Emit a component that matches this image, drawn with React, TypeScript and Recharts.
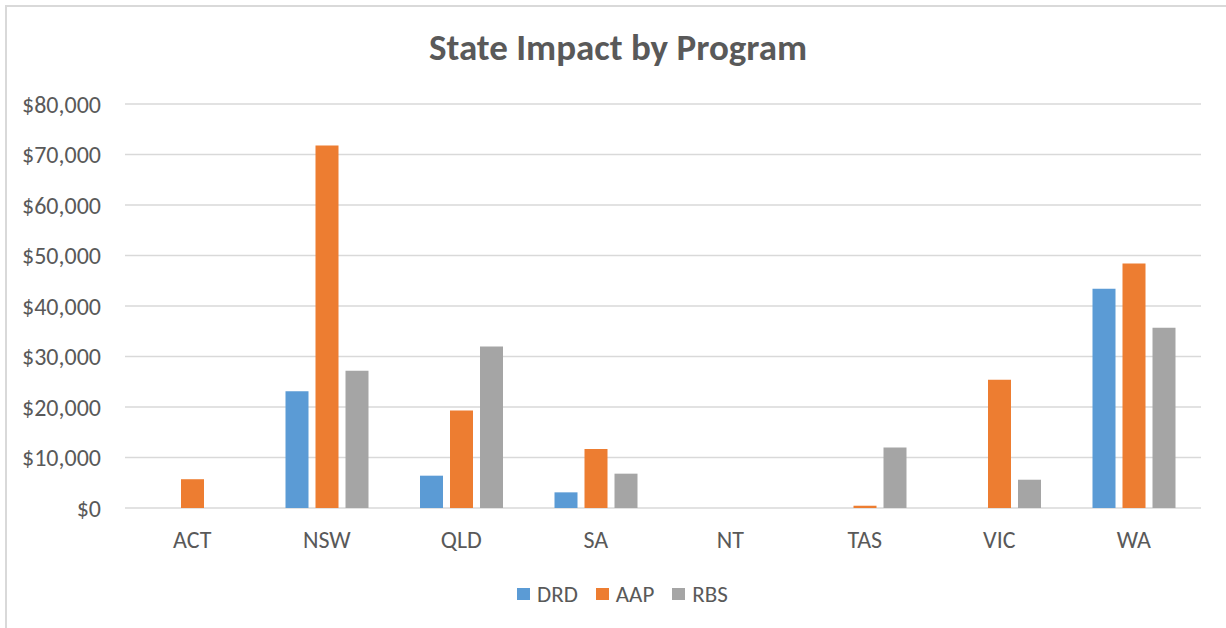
import { BarChart, Bar, XAxis, YAxis, CartesianGrid } from "recharts";

const states = ["ACT", "NSW", "QLD", "SA", "NT", "TAS", "VIC", "WA"];
const drd = [0, 23100, 6400, 3100, 0, 0, 0, 43400];
const aap = [5700, 71800, 19300, 11700, 0, 450, 25400, 48400];
const rbs = [0, 27200, 32000, 6800, 0, 12000, 5600, 35700];
const yTicks = [0, 10000, 20000, 30000, 40000, 50000, 60000, 70000, 80000];

const series = [
  { key: "DRD", color: "#5B9BD5" },
  { key: "AAP", color: "#ED7D31" },
  { key: "RBS", color: "#A5A5A5" },
];

const data = states.map((s, i) => ({ state: s, DRD: drd[i], AAP: aap[i], RBS: rbs[i] }));

const FONT = "Carlito, Calibri, 'Open Sans', sans-serif";
const TEXT = "#595959";

const money = (v: number) => "$" + v.toLocaleString("en-US");

export default function App() {
  return (
    <div style={{ position: "absolute", left: 0, top: 0, width: 1226, height: 628, overflow: "hidden", background: "#fff", fontFamily: FONT }}>
      {/* chart frame, cropped at right and bottom */}
      <div
        style={{
          position: "absolute",
          left: 5,
          top: 5,
          width: 1240,
          height: 640,
          borderTop: "2px solid #d9d9d9",
          borderLeft: "2px solid #d9d9d9",
        }}
      />

      <div
        style={{
          position: "absolute",
          left: 0,
          width: 1236,
          top: 28,
          textAlign: "center",
          fontSize: 37,
          fontWeight: 700,
          color: TEXT,
          lineHeight: "40px",
        }}
      >
        State Impact by Program
      </div>

      <div style={{ position: "absolute", left: 0, top: 0 }}>
        <BarChart
          width={1226}
          height={628}
          data={data}
          margin={{ top: 104, right: 25, bottom: 0, left: 0 }}
          barCategoryGap={26}
          barGap={7}
        >
          <CartesianGrid vertical={false} stroke="#d9d9d9" strokeWidth={1.5} />
          <XAxis
            dataKey="state"
            axisLine={false}
            tickLine={false}
            tickSize={0}
            tickMargin={23}
            height={120}
            tick={{ fill: TEXT, fontSize: 24, fontFamily: FONT }}
          />
          <YAxis
            domain={[0, 80000]}
            ticks={yTicks}
            width={125}
            axisLine={false}
            tickLine={false}
            tickSize={0}
            tickMargin={24}
            tickFormatter={money}
            tick={{ fill: TEXT, fontSize: 24, fontFamily: FONT }}
          />
          {series.map((s) => (
            <Bar key={s.key} dataKey={s.key} fill={s.color} isAnimationActive={false} />
          ))}
        </BarChart>
      </div>

      {/* legend */}
      <div
        style={{
          position: "absolute",
          left: 517,
          top: 582,
          height: 24,
          display: "flex",
          alignItems: "center",
          fontSize: 23,
          color: TEXT,
        }}
      >
        {series.map((s) => (
          <div key={s.key} style={{ display: "flex", alignItems: "center", marginRight: 18 }}>
            <span style={{ width: 13, height: 12, background: s.color, marginRight: 7, display: "inline-block" }} />
            <span>{s.key}</span>
          </div>
        ))}
      </div>
    </div>
  );
}
